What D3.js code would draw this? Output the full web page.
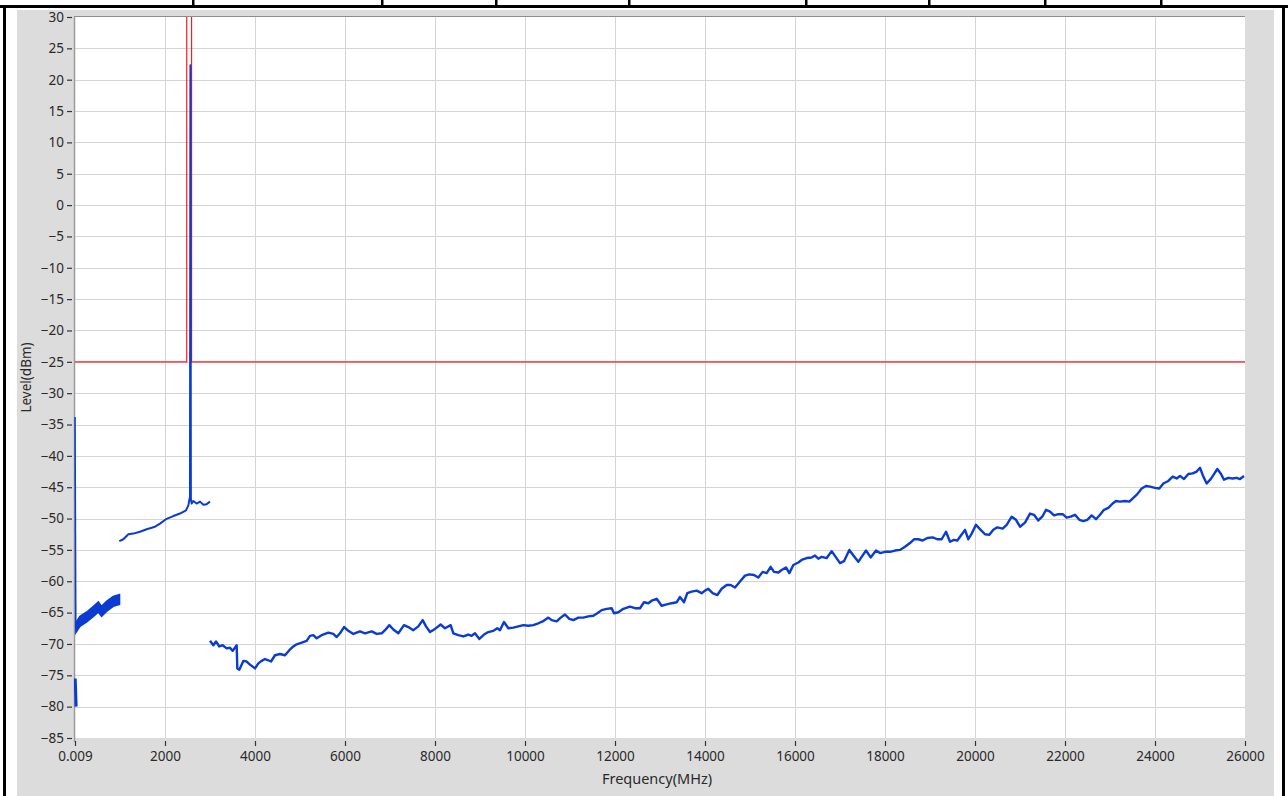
<!DOCTYPE html>
<html>
<head>
<meta charset="utf-8">
<script src="https://cdn.jsdelivr.net/npm/d3@7"></script>
<style>
  html, body { margin: 0; padding: 0; background: #ffffff; }
  svg { display: block; }
  text { font-family: "Noto Sans", "Open Sans", sans-serif; fill: #2a2a2a; }
</style>
</head>
<body>
<svg id="chart" width="1288" height="796"></svg>
<script>
// ---- axis ticks ----
const freqTicks = [0.009, 2000, 4000, 6000, 8000, 10000, 12000, 14000, 16000, 18000, 20000, 22000, 24000, 26000];
const freqTickLabels = ["0.009", "2000", "4000", "6000", "8000", "10000", "12000", "14000", "16000", "18000", "20000", "22000", "24000", "26000"];
const levelTicks = [30, 25, 20, 15, 10, 5, 0, -5, -10, -15, -20, -25, -30, -35, -40, -45, -50, -55, -60, -65, -70, -75, -80, -85];

// ---- limit line (MHz, dBm) ----
const limitFreq  = [0.009, 2483, 2483, 2590, 2590, 26000];
const limitLevel = [-25, -25, 45, 45, -25, -25];

// ---- measured trace, piece by piece (MHz, dBm) ----
// lowest-frequency spurs, all within the first few MHz
const spurFreq  = [1, 18];
const spurLevel = [-33.8, -67.5];
const stubFreq  = [5, 25];
const stubLevel = [-75.5, -80.0];

// 9 kHz - 1 GHz band: centre and min/max envelope
const bandFreq  = [18, 110, 260, 410, 520, 590, 700, 850, 990];
const bandLevel = [-67.4, -66.4, -65.7, -64.8, -64.1, -64.8, -64.0, -63.2, -62.9];
const bandHigh  = [-66.6, -65.6, -64.9, -64.0, -63.3, -64.0, -63.2, -62.4, -62.1];
const bandLow   = [-68.2, -67.2, -66.5, -65.6, -64.9, -65.6, -64.8, -64.0, -63.7];

// 1 GHz - 3 GHz, carrier at 2565 MHz
const midFreq  = [985, 1074, 1185, 1296, 1444, 1593, 1778, 1889, 2022, 2185, 2333, 2467, 2519, 2555, 2565, 2575, 2593, 2630, 2704, 2778, 2852, 2926, 3000];
const midLevel = [-53.6, -53.3, -52.5, -52.4, -52.1, -51.7, -51.3, -50.8, -50.1, -49.6, -49.2, -48.7, -47.9, -46.5, 22.3, -46.8, -47.6, -47.2, -47.6, -47.3, -47.8, -47.7, -47.3];

// 3 GHz - 26 GHz
const highFreq = [
  3000, 3074, 3133, 3207, 3281, 3370, 3444, 3504, 3593, 3607, 3652, 3741, 3815, 3889, 4000,
  4074, 4148, 4222, 4296, 4356, 4444, 4556, 4667, 4763, 4852, 4926, 5037, 5148, 5222, 5296,
  5370, 5481, 5630, 5741, 5815, 5889, 5978, 6074, 6185, 6333, 6444, 6593, 6704, 6815, 6889,
  6985, 7074, 7185, 7311, 7407, 7519, 7630, 7726, 7800, 7889, 8000, 8126, 8222, 8348, 8407,
  8519, 8630, 8741, 8815, 8889, 8985, 9089, 9185, 9296, 9385, 9444, 9533, 9630, 9741, 9852,
  9963, 10074, 10185, 10296, 10393, 10519, 10593, 10704, 10793, 10889, 10985, 11074, 11185, 11296, 11407,
  11519, 11607, 11704, 11815, 11926, 11978, 12074, 12185, 12333, 12444, 12556, 12644, 12741, 12815, 12926,
  13037, 13148, 13259, 13370, 13444, 13533, 13607, 13704, 13815, 13926, 14000, 14074, 14170, 14274, 14370,
  14481, 14570, 14667, 14778, 14889, 14985, 15089, 15185, 15281, 15370, 15459, 15533, 15630, 15704, 15800,
  15874, 15963, 16074, 16148, 16259, 16370, 16444, 16519, 16593, 16704, 16815, 16911, 17000, 17089, 17207,
  17311, 17407, 17481, 17578, 17681, 17800, 17889, 18000, 18111, 18222, 18333, 18444, 18556, 18644, 18741,
  18837, 18941, 19059, 19163, 19259, 19356, 19444, 19533, 19607, 19667, 19778, 19852, 19926, 20022, 20126,
  20222, 20319, 20407, 20496, 20615, 20704, 20815, 20911, 21000, 21111, 21222, 21311, 21407, 21504, 21578,
  21667, 21756, 21852, 21948, 22037, 22126, 22222, 22319, 22407, 22496, 22593, 22689, 22778, 22867, 22963,
  23059, 23133, 23222, 23333, 23430, 23519, 23607, 23704, 23800, 23889, 24000, 24096, 24185, 24296, 24393,
  24481, 24556, 24644, 24741, 24837, 24926, 25000, 25074, 25148, 25237, 25311, 25385, 25459, 25533, 25630,
  25726, 25815, 25889, 25978
];
const highLevel = [
  -69.5, -70.2, -69.6, -70.4, -70.2, -70.7, -70.6, -71.1, -70.2, -73.9, -74.1, -72.7, -72.8, -73.3, -73.9,
  -73.1, -72.7, -72.4, -72.6, -72.8, -71.8, -71.6, -71.8, -71.0, -70.4, -70.05, -69.8, -69.5, -68.7, -68.6,
  -69.1, -68.6, -68.2, -68.4, -68.9, -68.3, -67.3, -67.9, -68.4, -68.0, -68.3, -68.0, -68.4, -68.3, -67.8,
  -67.0, -67.7, -68.3, -67.0, -67.3, -67.8, -67.2, -66.2, -67.2, -68.1, -67.6, -66.9, -67.5, -67.0, -68.3,
  -68.6, -68.8, -68.5, -68.7, -68.3, -69.2, -68.5, -68.1, -67.9, -67.5, -67.8, -66.5, -67.5, -67.4, -67.2,
  -67.0, -67.1, -67.0, -66.7, -66.4, -65.8, -66.2, -66.4, -65.8, -65.3, -66.0, -66.2, -65.8, -65.8, -65.6,
  -65.5, -65.1, -64.6, -64.4, -64.3, -65.1, -64.95, -64.4, -64.05, -64.3, -64.3, -63.35, -63.5, -63.1, -62.8,
  -63.9, -63.7, -63.5, -63.35, -62.5, -63.35, -61.9, -61.65, -61.5, -61.9, -61.5, -61.2, -61.9, -62.2, -61.2,
  -60.6, -60.6, -61.0, -60.05, -59.1, -58.9, -59.0, -59.4, -58.5, -58.7, -57.7, -58.5, -58.6, -58.2, -57.8,
  -58.7, -57.4, -57.0, -56.6, -56.3, -56.2, -55.9, -56.4, -56.1, -56.3, -55.2, -56.2, -57.1, -56.8, -55.0,
  -56.0, -56.9, -56.1, -55.1, -56.2, -55.1, -55.5, -55.3, -55.3, -55.1, -55.0, -54.5, -53.9, -53.3, -53.3,
  -53.5, -53.1, -53.0, -53.3, -53.3, -52.1, -53.7, -53.4, -53.5, -52.9, -51.8, -53.3, -52.4, -51.0, -51.8,
  -52.5, -52.6, -51.8, -51.4, -51.6, -51.0, -49.7, -50.2, -51.3, -50.65, -49.2, -49.4, -50.3, -49.6, -48.6,
  -48.9, -49.5, -49.3, -49.3, -49.85, -49.7, -49.4, -50.2, -50.4, -50.2, -49.5, -50.1, -49.4, -48.6, -48.3,
  -47.6, -47.2, -47.3, -47.2, -47.3, -46.7, -46.1, -45.2, -44.8, -44.9, -45.1, -45.2, -44.4, -44.0, -43.3,
  -43.6, -43.2, -43.7, -42.9, -42.8, -42.5, -41.9, -43.3, -44.4, -43.7, -42.9, -42.1, -42.8, -43.8, -43.5,
  -43.6, -43.5, -43.7, -43.2
];

// ---- layout ----
const W = 1288, H = 796;
const plot = { left: 75, right: 1245, top: 17, bottom: 738 };
const traceColor = "#0a3bd2";
const limitColor = "#ff1a1a";

const svg = d3.select("#chart");

// surrounding frame
svg.append("rect").attr("x", 0).attr("y", 0).attr("width", W).attr("height", H).attr("fill", "#ffffff");
svg.append("rect").attr("x", 17).attr("y", 10).attr("width", 1257).attr("height", H - 10).attr("fill", "#dcdcdc");
svg.append("rect").attr("x", 0).attr("y", 5).attr("width", W).attr("height", 3).attr("fill", "#000");
svg.append("rect").attr("x", 3).attr("y", 5).attr("width", 3).attr("height", H - 5).attr("fill", "#000");
svg.append("rect").attr("x", 1282).attr("y", 5).attr("width", 3).attr("height", H - 5).attr("fill", "#000");
[192, 381, 495, 628, 805, 928, 1044, 1160].forEach(px => {
  svg.append("rect").attr("x", px).attr("y", 0).attr("width", 2.5).attr("height", 6).attr("fill", "#000");
});

// scales
const x = d3.scaleLinear().domain([0.009, 26000]).range([plot.left, plot.right]);
const y = d3.scaleLinear().domain([-85, 30]).range([plot.bottom, plot.top]);

// plotting area
svg.append("rect")
  .attr("x", plot.left - 1).attr("y", plot.top - 0.5)
  .attr("width", plot.right - plot.left + 1).attr("height", plot.bottom - plot.top + 0.5)
  .attr("fill", "#ffffff");

svg.append("clipPath").attr("id", "plotClip")
  .append("rect")
  .attr("x", plot.left - 1).attr("y", plot.top)
  .attr("width", plot.right - plot.left + 2).attr("height", plot.bottom - plot.top);

// grid
const grid = svg.append("g").attr("shape-rendering", "crispEdges");
grid.selectAll("line.h").data(levelTicks.filter(d => d > -85 && d < 30)).join("line")
  .attr("x1", plot.left).attr("x2", plot.right)
  .attr("y1", d => Math.round(y(d)) + 0.5).attr("y2", d => Math.round(y(d)) + 0.5)
  .attr("stroke", "#d4d4d4").attr("stroke-width", 1.5);
grid.selectAll("line.v").data(freqTicks.filter(d => d > 1 && d < 26000)).join("line")
  .attr("x1", d => Math.round(x(d)) + 0.5).attr("x2", d => Math.round(x(d)) + 0.5)
  .attr("y1", plot.top).attr("y2", plot.bottom)
  .attr("stroke", "#d4d4d4").attr("stroke-width", 1.5);

// plot edge lines
svg.append("line").attr("x1", plot.left - 1).attr("x2", plot.right).attr("y1", plot.top - 0.5).attr("y2", plot.top - 0.5)
  .attr("stroke", "#8c8c8c").attr("stroke-width", 1);
svg.append("line").attr("x1", plot.left - 0.5).attr("x2", plot.left - 0.5).attr("y1", plot.top - 1).attr("y2", plot.bottom + 4)
  .attr("stroke", "#9a9a9a").attr("stroke-width", 1.5);

// axes
const yAxis = d3.axisLeft(y).tickValues(levelTicks).tickSize(5).tickPadding(3);
const gy = svg.append("g").attr("transform", `translate(${plot.left - 3},0)`).call(yAxis);
gy.select(".domain").remove();
gy.selectAll(".tick line").attr("stroke", "#333").attr("stroke-width", 1.2);
gy.selectAll(".tick text").attr("font-size", 13.5).attr("fill", "#2a2a2a")
  .style("font-family", '"Noto Sans", sans-serif');

const xAxis = d3.axisBottom(x).tickValues(freqTicks)
  .tickFormat((d, i) => freqTickLabels[i]).tickSize(5).tickPadding(5);
const gx = svg.append("g").attr("transform", `translate(0,${plot.bottom + 3})`).call(xAxis);
gx.select(".domain").remove();
gx.selectAll(".tick line").attr("stroke", "#333").attr("stroke-width", 1.2);
gx.selectAll(".tick text").attr("font-size", 13.5).attr("fill", "#2a2a2a")
  .style("font-family", '"Noto Sans", sans-serif');

// axis titles
svg.append("text")
  .attr("x", 657).attr("y", 784)
  .attr("text-anchor", "middle").attr("font-size", 14.5)
  .text("Frequency(MHz)");
svg.append("text")
  .attr("transform", `translate(31,${(plot.top + plot.bottom) / 2}) rotate(-90)`)
  .attr("text-anchor", "middle").attr("font-size", 13.5)
  .text("Level(dBm)");

// data layers
const layer = svg.append("g").attr("clip-path", "url(#plotClip)");
const toPts = (fs, vs) => fs.map((f, i) => [f, vs[i]]);
const line = d3.line().x(d => x(d[0])).y(d => y(d[1]));

// limit line
layer.append("path")
  .datum(toPts(limitFreq, limitLevel))
  .attr("d", line).attr("fill", "none")
  .attr("stroke", limitColor).attr("stroke-width", 1.2);

// low-frequency band envelope
const band = d3.area().x((d, i) => x(bandFreq[i])).y0(d => y(d[0])).y1(d => y(d[1]));
layer.append("path")
  .datum(bandLow.map((v, i) => [v, bandHigh[i]]))
  .attr("d", band).attr("fill", traceColor).attr("stroke", traceColor).attr("stroke-width", 1.5);
layer.append("path")
  .datum(toPts(bandFreq, bandLevel))
  .attr("d", line).attr("fill", "none").attr("stroke", traceColor).attr("stroke-width", 2);

// spur and stub at the very bottom of the range
layer.append("path")
  .datum(toPts(spurFreq, spurLevel))
  .attr("d", line).attr("fill", "none").attr("stroke", traceColor).attr("stroke-width", 1.5);
layer.append("path")
  .datum(toPts(stubFreq, stubLevel))
  .attr("d", line).attr("fill", "none").attr("stroke", traceColor).attr("stroke-width", 3);

// 1-3 GHz and 3-26 GHz pieces
layer.append("path")
  .datum(toPts(midFreq, midLevel))
  .attr("d", line).attr("fill", "none").attr("stroke", traceColor)
  .attr("stroke-width", 2).attr("stroke-linejoin", "round");
layer.append("path")
  .datum(toPts(highFreq, highLevel))
  .attr("d", line).attr("fill", "none").attr("stroke", traceColor)
  .attr("stroke-width", 2.4).attr("stroke-linejoin", "round");
</script>
</body>
</html>
